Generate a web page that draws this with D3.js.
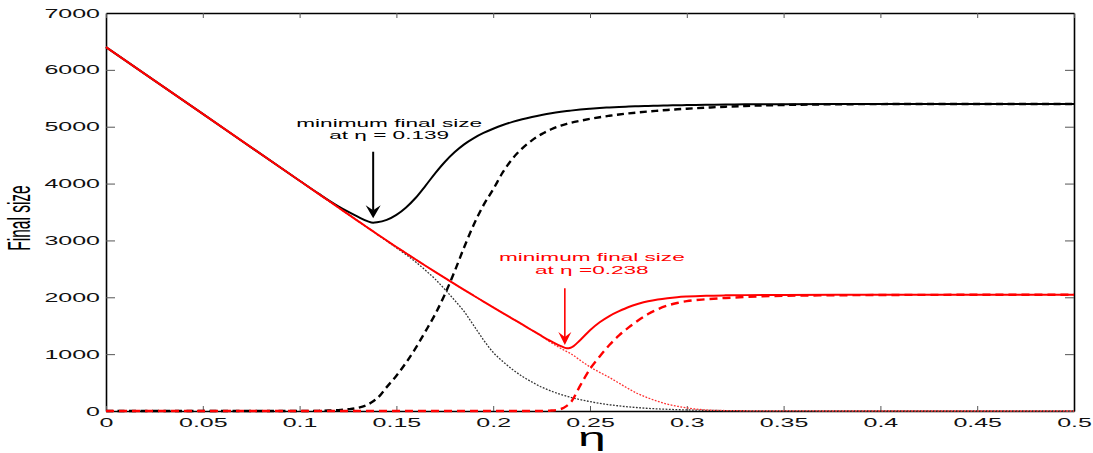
<!DOCTYPE html>
<html>
<head>
<meta charset="utf-8">
<script src="https://cdn.jsdelivr.net/npm/d3@7"></script>
<style>
  body { margin: 0; background: #fff; }
  text { font-family: "Liberation Sans", Arial, Helvetica, sans-serif; }
</style>
</head>
<body>
<div id="chart"></div>
<script>
// data
const eta = [0, 0.05, 0.1, 0.11, 0.115, 0.12, 0.125, 0.13, 0.135, 0.138, 0.14, 0.145, 0.15, 0.155, 0.16,
  0.165, 0.17, 0.175, 0.18, 0.185, 0.19, 0.195, 0.2, 0.205, 0.21, 0.215, 0.22, 0.225, 0.23, 0.235, 0.238,
  0.24, 0.245, 0.25, 0.255, 0.26, 0.265, 0.27, 0.275, 0.28, 0.285, 0.29, 0.295, 0.3, 0.31, 0.32, 0.33,
  0.35, 0.4, 0.45, 0.5];

const blackSolid = [6400, 5225, 4050, 3818, 3705, 3600, 3505, 3418, 3340, 3312, 3318, 3362, 3450, 3580, 3750,
  3960, 4180, 4380, 4550, 4690, 4800, 4890, 4965, 5030, 5085, 5130, 5170, 5206, 5237, 5262, 5275,
  5283, 5301, 5316, 5329, 5339, 5348, 5355, 5361, 5366, 5370, 5374, 5377, 5380, 5386, 5390, 5393,
  5397, 5400, 5400, 5400];

const blackDashed = [0, 0, 0, 3, 8, 15, 30, 55, 110, 170, 220, 420, 620, 850, 1110,
  1400, 1700, 2050, 2450, 2880, 3280, 3620, 3900, 4200, 4440, 4620, 4760, 4870, 4955, 5020, 5050,
  5068, 5105, 5138, 5167, 5192, 5215, 5235, 5252, 5268, 5282, 5295, 5306, 5316, 5335, 5352, 5365,
  5382, 5398, 5400, 5400];

const blackDotted = [6400, 5225, 4050, 3815, 3697, 3580, 3462, 3345, 3227, 3157, 3108, 2990, 2870, 2750, 2620,
  2475, 2320, 2140, 1950, 1750, 1500, 1250, 1030, 870, 730, 610, 510, 420, 350, 290, 260,
  240, 200, 165, 135, 110, 90, 72, 58, 46, 37, 30, 24, 19, 12, 7, 4,
  1, 0, 0, 0];

const redSolid = [6400, 5225, 4050, 3815, 3697, 3580, 3462, 3345, 3228, 3158, 3112, 2998, 2885, 2775, 2665,
  2555, 2447, 2340, 2235, 2130, 2027, 1925, 1823, 1722, 1622, 1522, 1420, 1320, 1225, 1140, 1102,
  1112, 1250, 1420, 1560, 1670, 1755, 1830, 1885, 1930, 1962, 1985, 2002, 2013, 2027, 2034, 2038,
  2042, 2045, 2045, 2045];

const redDashed = [0, 0, 0, 0, 0, 0, 0, 0, 0, 0, 0, 0, 0, 0, 0,
  0, 0, 0, 0, 0, 0, 0, 0, 0, 0, 0, 0, 0, 8, 35, 90,
  150, 450, 740, 960, 1160, 1330, 1470, 1595, 1705, 1790, 1855, 1900, 1932, 1965, 1988, 2005,
  2025, 2040, 2044, 2045];

const redDotted = [6400, 5225, 4050, 3815, 3697, 3580, 3462, 3345, 3228, 3158, 3112, 2998, 2885, 2775, 2665,
  2555, 2447, 2340, 2235, 2130, 2027, 1925, 1823, 1722, 1622, 1522, 1420, 1320, 1200, 1100, 1045,
  1010, 890, 775, 680, 590, 490, 390, 300, 230, 170, 120, 85, 55, 18, 8, 4,
  1, 0, 0, 0];

const xTicks = [0, 0.05, 0.1, 0.15, 0.2, 0.25, 0.3, 0.35, 0.4, 0.45, 0.5];
const xTickLabels = ["0", "0.05", "0.1", "0.15", "0.2", "0.25", "0.3", "0.35", "0.4", "0.45", "0.5"];
const yTicks = [0, 1000, 2000, 3000, 4000, 5000, 6000, 7000];
const yTickLabels = ["0", "1000", "2000", "3000", "4000", "5000", "6000", "7000"];

const annotations = [
  {eta: 0.138, tip: 3390, tail: 4560, lines: ["minimum final size", "at η = 0.139"],
   color: "#000", dx: 16, dy: [-25, -12.5], width: 2, head: 7.5},
  {eta: 0.237, tip: 1160, tail: 2160, lines: ["minimum final size", "at η =0.238"],
   color: "#ff0000", dx: 27, dy: [-27.5, -14], width: 1.6, head: 6.5}
];

const W = 1093, H = 453;
const SX = 2; // the picture is stretched sideways, text too
const plot = {left: 106, right: 1074, top: 13, bottom: 411};

const svg = d3.select("#chart").append("svg")
  .attr("width", W).attr("height", H);
svg.append("rect").attr("width", W).attr("height", H).attr("fill", "#fff");

const x = d3.scaleLinear().domain([0, 0.5]).range([plot.left, plot.right]);
const y = d3.scaleLinear().domain([0, 7000]).range([plot.bottom, plot.top]);

function style_axis(g) {
  g.select(".domain").attr("stroke", "#000").attr("stroke-width", 1.6);
  g.selectAll(".tick line").attr("stroke", "#555").attr("stroke-width", 1);
  g.selectAll(".tick text")
    .attr("fill", "#111")
    .style("font-size", "12.5px")
    .style("font-family", "'Liberation Sans', Arial, sans-serif");
}

// axes (box)
const gLeft = svg.append("g").attr("transform", `translate(${plot.left},0)`)
  .call(d3.axisLeft(y).tickValues(yTicks).tickFormat((d, i) => yTickLabels[i])
    .tickSizeInner(-9).tickSizeOuter(0).tickPadding(3));
style_axis(gLeft);
gLeft.selectAll(".tick text").attr("transform", `scale(${SX},1)`);

const gBottom = svg.append("g").attr("transform", `translate(0,${plot.bottom})`)
  .call(d3.axisBottom(x).tickValues(xTicks).tickFormat((d, i) => xTickLabels[i])
    .tickSizeInner(-5).tickSizeOuter(0).tickPadding(7));
style_axis(gBottom);
gBottom.selectAll(".tick text").attr("transform", `scale(${SX},1)`);

const gRight = svg.append("g").attr("transform", `translate(${plot.right},0)`)
  .call(d3.axisRight(y).tickValues(yTicks).tickFormat("")
    .tickSizeInner(-9).tickSizeOuter(0));
style_axis(gRight);

const gTop = svg.append("g").attr("transform", `translate(0,${plot.top})`)
  .call(d3.axisTop(x).tickValues(xTicks).tickFormat("")
    .tickSizeInner(-5).tickSizeOuter(0));
style_axis(gTop);

// curves
const series = [
  {values: blackDotted, color: "#333", width: 1.3, dash: "1.8,1.5"},
  {values: blackDashed, color: "#000", width: 2.4, dash: "7,4.5"},
  {values: blackSolid, color: "#000", width: 2, dash: null},
  {values: redDotted, color: "#ff3030", width: 1.3, dash: "1.8,1.5"},
  {values: redDashed, color: "#ff0000", width: 2.4, dash: "8,5"},
  {values: redSolid, color: "#ff0000", width: 2, dash: null}
];

const line = d3.line()
  .x((d, i) => x(eta[i]))
  .y(d => y(d))
  .curve(d3.curveMonotoneX);

svg.append("g").selectAll("path.curve")
  .data(series)
  .join("path")
  .classed("curve", true)
  .attr("d", d => line(d.values))
  .attr("fill", "none")
  .attr("stroke", d => d.color)
  .attr("stroke-width", d => d.width)
  .attr("stroke-dasharray", d => d.dash)
  .attr("stroke-linejoin", "round");

// annotations with arrows
const ann = svg.append("g").selectAll("g.ann")
  .data(annotations)
  .join("g")
  .classed("ann", true);

ann.append("line")
  .attr("x1", d => x(d.eta)).attr("x2", d => x(d.eta))
  .attr("y1", d => y(d.tail)).attr("y2", d => y(d.tip) - 8)
  .attr("stroke", d => d.color)
  .attr("stroke-width", d => d.width);

ann.append("path")
  .attr("transform", d => `translate(${x(d.eta)},${y(d.tip)})`)
  .attr("d", d => `M0,0L${-d.head},-13L0,-8L${d.head},-13Z`)
  .attr("fill", d => d.color);

ann.each(function(d) {
  const g = d3.select(this);
  d.lines.forEach((t, i) => {
    g.append("text")
      .attr("transform", `translate(${x(d.eta) + d.dx},${y(d.tail) + d.dy[i]}) scale(${SX},1)`)
      .attr("text-anchor", "middle")
      .attr("fill", d.color)
      .style("font-size", "11.3px")
      .text(t);
  });
});

// axis titles
svg.append("text")
  .attr("transform", `translate(${(plot.left + plot.right) / 2 + 2},446) scale(${SX},1)`)
  .attr("text-anchor", "middle")
  .style("font-size", "25px")
  .attr("fill", "#000")
  .text("η");

svg.append("text")
  .attr("transform", `translate(30,${(plot.top + plot.bottom) / 2 + 6}) scale(${SX},1) rotate(-90)`)
  .attr("text-anchor", "middle")
  .style("font-size", "15.5px")
  .attr("fill", "#000")
  .text("Final size");
</script>
</body>
</html>
